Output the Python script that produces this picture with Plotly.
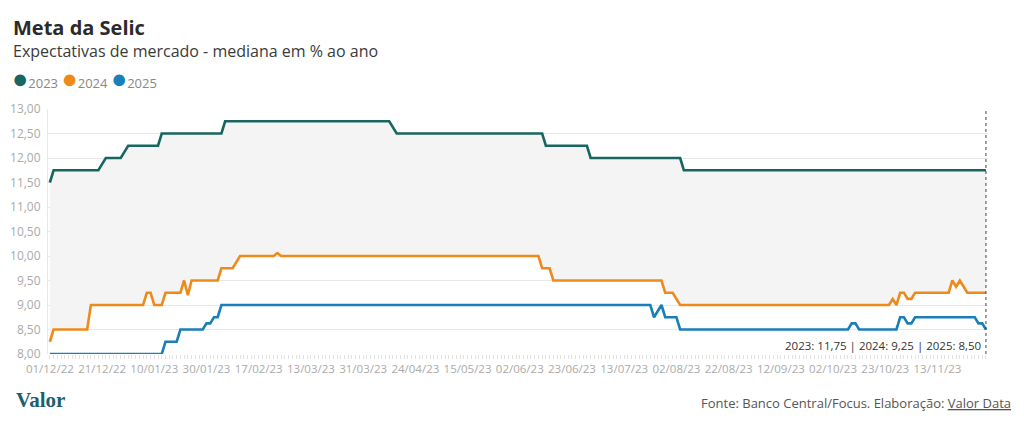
import pandas as pd
import plotly.graph_objects as go

# ---- categories: Brazilian business days (Focus survey dates)
start_date = "2022-12-01"
end_date = "2023-12-01"
holidays = ["2022-12-25", "2023-01-01", "2023-02-20", "2023-02-21", "2023-04-07",
            "2023-04-21", "2023-05-01", "2023-06-08", "2023-09-07", "2023-10-12",
            "2023-11-02", "2023-11-15"]
dates = pd.bdate_range(start_date, end_date, freq="C", holidays=holidays)
categories = [d.strftime("%d/%m/%y") for d in dates]

# ---- series as change points (index of business day, value)
s2023_idx = [0, 1, 14, 15, 20, 21, 30, 47, 92, 93, 133, 145, 170]
s2023_val = [11.5, 11.75, 11.875, 12.0, 12.125, 12.25, 12.5, 12.75, 12.625, 12.5, 12.25, 12.0, 11.75]

s2024_idx = [0, 1, 11, 26, 28, 31, 36, 37, 38, 46, 50, 51, 61, 62, 132, 135, 165, 168, 169,
             226, 227, 228, 230, 232, 242, 243, 244, 245, 246]
s2024_val = [8.25, 8.5, 9.0, 9.25, 9.0, 9.25, 9.5, 9.2, 9.5, 9.75, 9.875, 10.0, 10.06, 10.0, 9.75, 9.5, 9.25, 9.125, 9.0,
             9.125, 9.0, 9.25, 9.125, 9.25, 9.5, 9.375, 9.5, 9.375, 9.25]

s2025_idx = [0, 31, 35, 42, 44, 46, 162, 163, 164, 165, 169, 215, 217, 228, 230, 232, 249, 251]
s2025_val = [8.0, 8.25, 8.5, 8.625, 8.75, 9.0, 8.75, 8.875, 9.0, 8.75, 8.5, 8.625, 8.5, 8.75, 8.625, 8.75, 8.625, 8.5]

tick_step = 14
series_names = ["2023", "2024", "2025"]
colors = ["#17665f", "#ee8a1a", "#1a7fb8"]


def expand(idx, val, n):
    out = []
    k = 0
    cur = val[0]
    for i in range(n):
        while k < len(idx) and idx[k] <= i:
            cur = val[k]
            k += 1
        out.append(cur)
    return out


n = len(categories)
y2023 = expand(s2023_idx, s2023_val, n)
y2024 = expand(s2024_idx, s2024_val, n)
y2025 = expand(s2025_idx, s2025_val, n)
all_series = [y2023, y2024, y2025]

fig = go.Figure()

# grey band between 2023 and 2024
fig.add_trace(go.Scatter(x=categories, y=y2024, mode="lines", line=dict(width=0),
                         showlegend=False, hoverinfo="skip"))
fig.add_trace(go.Scatter(x=categories, y=y2023, mode="lines", line=dict(width=0),
                         fill="tonexty", fillcolor="rgba(244,244,244,1)",
                         showlegend=False, hoverinfo="skip"))

for name, ys, c in zip(series_names, all_series, colors):
    fig.add_trace(go.Scatter(x=categories, y=ys, mode="lines", name=name,
                             line=dict(color=c, width=2.6), showlegend=False))

ticktext = [lab if i % tick_step == 0 and i <= n - 8 else "" for i, lab in enumerate(categories)]

L, R, T, B = 48, 36, 109, 72
fig.update_layout(
    width=1024, height=426,
    paper_bgcolor="white", plot_bgcolor="white",
    margin=dict(l=L, r=R, t=T, b=B, autoexpand=False),
    separators=",.",
    font=dict(family="Open Sans", color="#999"),
    showlegend=False,
    xaxis=dict(type="category", range=[-0.5, n - 1 + 0.55], showgrid=False,
               tickmode="array", tickvals=categories, ticktext=ticktext,
               ticks="outside", ticklen=4, tickcolor="#e2e2e2", tickwidth=1,
               tickfont=dict(size=11.5, color="#aaa"), showline=False, zeroline=False,
               tickangle=0, automargin=False),
    yaxis=dict(range=[8, 13], dtick=0.5, tick0=8, tickformat=".2f",
               gridcolor="#e8e8e8", gridwidth=1, showline=True, linecolor="#e8e8e8",
               linewidth=1, zeroline=False, ticks="", ticklabelstandoff=4,
               tickfont=dict(size=12, color="#aaa"), automargin=False),
    hovermode=False,
)

# title & subtitle
fig.add_annotation(text="<b>Meta da Selic</b>", xref="paper", yref="paper",
                   x=0, y=1, xshift=-37, yshift=T - 27, xanchor="left", yanchor="middle",
                   showarrow=False, font=dict(size=20, color="#2b2b2b", family="Open Sans"))
fig.add_annotation(text="Expectativas de mercado - mediana em % ao ano", xref="paper", yref="paper",
                   x=0, y=1, xshift=-37, yshift=T - 51, xanchor="left", yanchor="middle",
                   showarrow=False, font=dict(size=16, color="#3a3a3a", family="Open Sans"))

# legend (coloured dots + labels)
legend_text = "".join(
    f"<span style='color:{c};font-size:27px'>●</span><span style='font-size:13px'>{nm}</span> "
    for nm, c in zip(series_names, colors))
fig.add_annotation(text=legend_text, xref="paper", yref="paper", x=0, y=1, xshift=-38,
                   yshift=T - 77, xanchor="left", yanchor="middle", showarrow=False,
                   font=dict(size=13, color="#888", family="Open Sans"))

# last-value marker line and label
last_cat = categories[-1]
fig.add_shape(type="line", x0=last_cat, x1=last_cat, xref="x", y0=0, y1=1, yref="paper",
              line=dict(color="#444", width=1, dash="dot"))
label = " | ".join(f"{nm}: {ys[-1]:.2f}".replace(".", ",") for nm, ys in zip(series_names, all_series))
fig.add_annotation(text=label, x=last_cat, xref="x", y=8, yref="y", xanchor="right",
                   yanchor="bottom", xshift=-3, yshift=-1, showarrow=False,
                   font=dict(size=11.5, color="#333", family="Open Sans"))

# footer
fig.add_annotation(text="<b>Valor</b>", xref="paper", yref="paper", x=0, y=0, xshift=-34,
                   yshift=-(400 - (426 - B)), xanchor="left", yanchor="middle", showarrow=False,
                   font=dict(size=21, color="#1d5f6f", family="Liberation Serif"))
fig.add_annotation(text="Fonte: Banco Central/Focus. Elaboração: <u>Valor Data</u>", xref="paper",
                   yref="paper", x=1, y=0, xshift=25, yshift=-(403 - (426 - B)), xanchor="right",
                   yanchor="middle", showarrow=False,
                   font=dict(size=13, color="#555", family="Open Sans"))

fig.write_html("out.html", post_script="document.body.style.margin='0';",
               config={"displayModeBar": False})
